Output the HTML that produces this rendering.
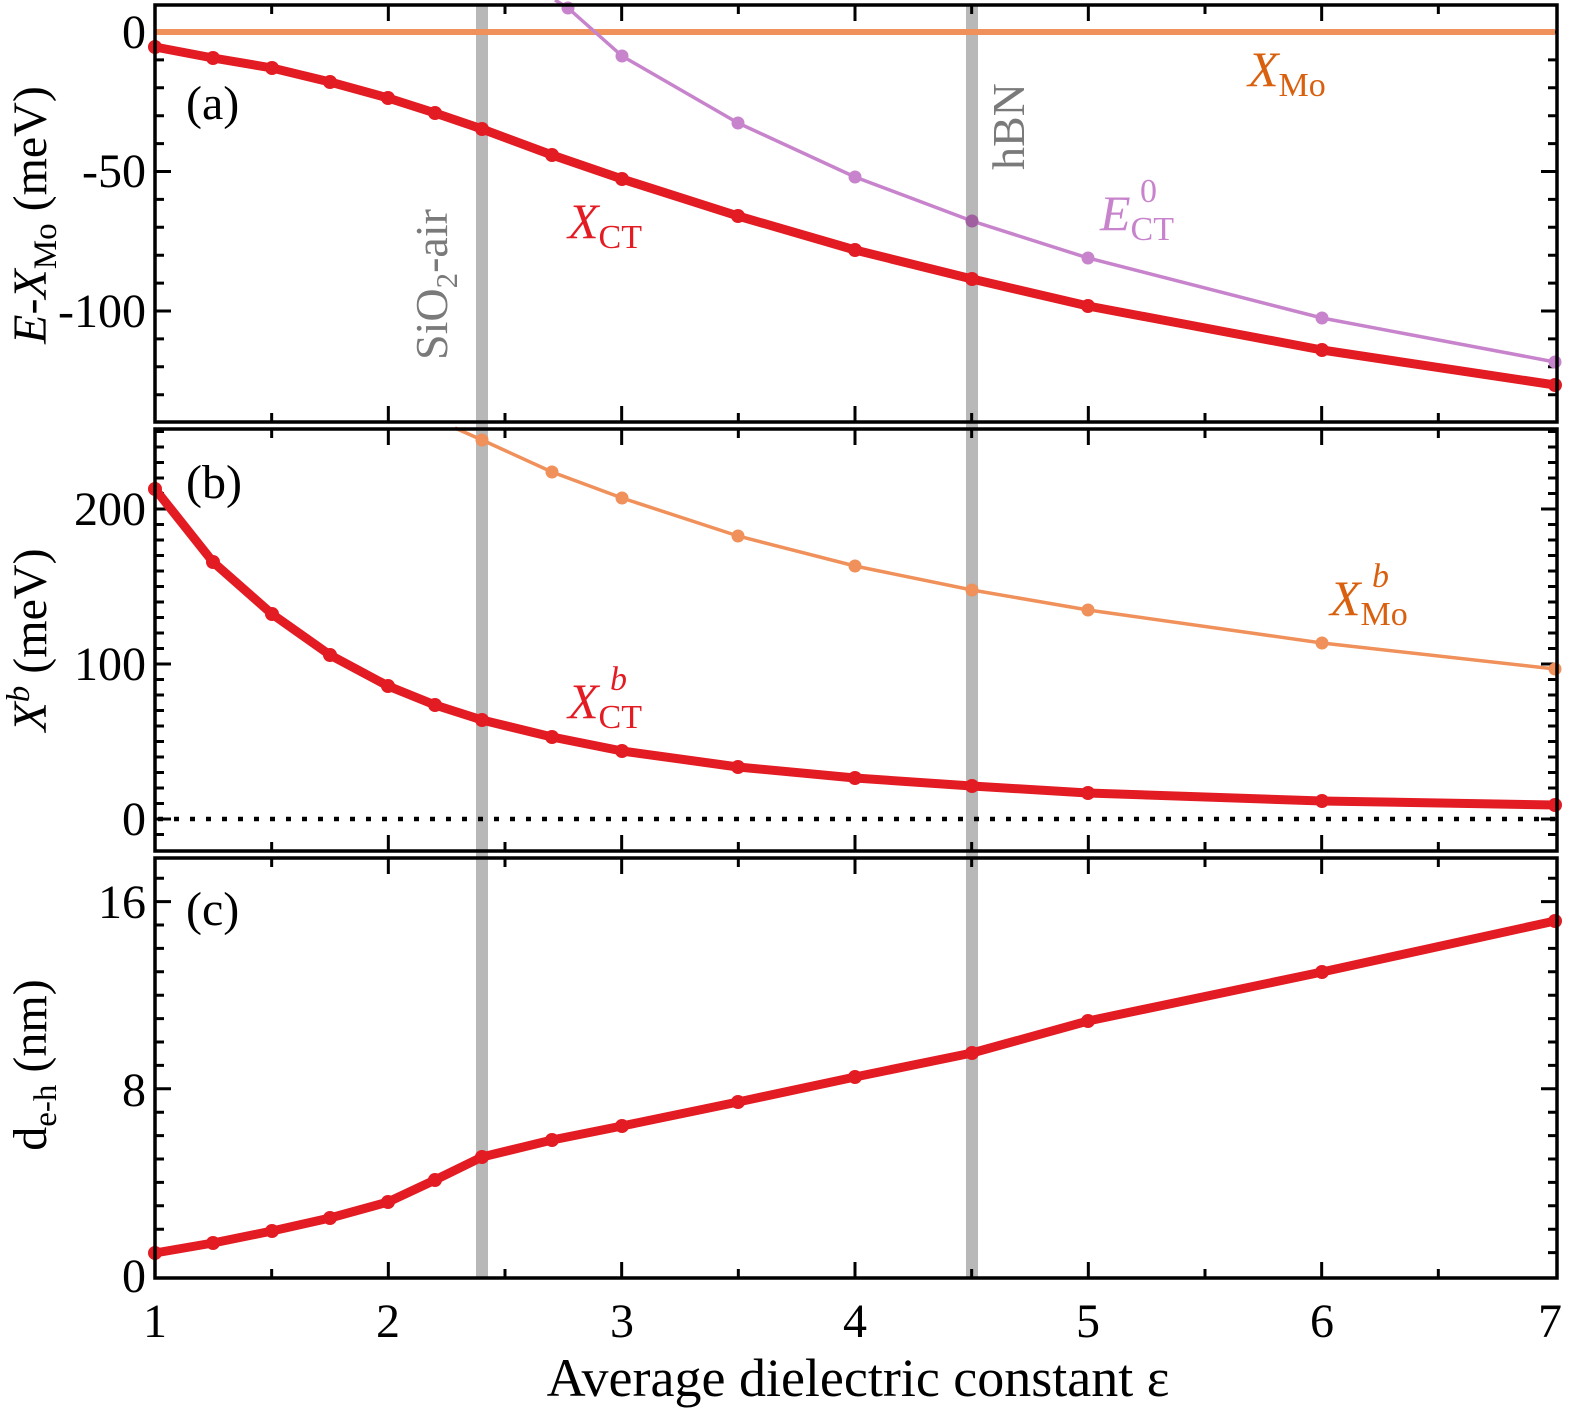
<!DOCTYPE html>
<html><head><meta charset="utf-8"><style>
html,body{margin:0;padding:0;background:#fff}
svg, svg text{font-family:"Liberation Serif","Times New Roman",serif}
</style></head><body>
<svg id="s" width="1570" height="1410" viewBox="0 0 1570 1410" xmlns="http://www.w3.org/2000/svg" font-family="Liberation Serif, serif">
<rect x="476" y="5" width="12" height="1273" fill="#b8b8b8"/>
<rect x="966" y="5" width="12" height="1273" fill="#b8b8b8"/>
<g id="ticks" stroke="#000" stroke-width="3" fill="none"></g>
<line x1="155" y1="32" x2="1555" y2="32" stroke="#f0905a" stroke-width="6"/>
<polyline fill="none" stroke="#c784cc" stroke-width="3.5" points="555,0 568,8 622,56 738,123 855,177 972,221 1088,258 1322,318 1555,362"/>
<g fill="#c784cc"><circle cx="555" cy="8" r="6.5" transform="translate(13,0)"/><circle cx="622" cy="56" r="6.5"/><circle cx="738" cy="123" r="6.5"/><circle cx="855" cy="177" r="6.5"/><circle cx="972" cy="221" r="6.5" fill="#a0609f"/><circle cx="1088" cy="258" r="6.5"/><circle cx="1322" cy="318" r="6.5"/><circle cx="1555" cy="362" r="6.5"/></g>
<polyline fill="none" stroke="#e31b23" stroke-width="9" stroke-linejoin="round" points="155,47 213,58 272,68 330,82 388,98 435,113 482,129 552,155 622,179 738,216 855,250 972,279 1088,306 1322,350 1555,385"/>
<g fill="#e31b23"><circle cx="155" cy="47" r="7"/><circle cx="213" cy="58" r="7"/><circle cx="272" cy="68" r="7"/><circle cx="330" cy="82" r="7"/><circle cx="388" cy="98" r="7"/><circle cx="435" cy="113" r="7"/><circle cx="482" cy="129" r="7"/><circle cx="552" cy="155" r="7"/><circle cx="622" cy="179" r="7"/><circle cx="738" cy="216" r="7"/><circle cx="855" cy="250" r="7"/><circle cx="972" cy="279" r="7"/><circle cx="1088" cy="306" r="7"/><circle cx="1322" cy="350" r="7"/><circle cx="1555" cy="385" r="7"/></g>
<line x1="158" y1="819" x2="1555" y2="819" stroke="#000" stroke-width="4.5" stroke-dasharray="5,11"/>
<polyline fill="none" stroke="#f0905a" stroke-width="3.5" points="455,428 482,440 552,472 622,498 738,536 855,566 972,590 1088,610 1322,643 1555,669"/>
<g fill="#f0905a"><circle cx="482" cy="440" r="6.5"/><circle cx="552" cy="472" r="6.5"/><circle cx="622" cy="498" r="6.5"/><circle cx="738" cy="536" r="6.5"/><circle cx="855" cy="566" r="6.5"/><circle cx="972" cy="590" r="6.5"/><circle cx="1088" cy="610" r="6.5"/><circle cx="1322" cy="643" r="6.5"/><circle cx="1555" cy="669" r="6.5"/></g>
<polyline fill="none" stroke="#e31b23" stroke-width="9" stroke-linejoin="round" points="155,489 213,562 272,614 330,655 388,686 435,705 482,720 552,737 622,751 738,767 855,778 972,786 1088,793 1322,801 1555,805"/>
<g fill="#e31b23"><circle cx="155" cy="489" r="7"/><circle cx="213" cy="562" r="7"/><circle cx="272" cy="614" r="7"/><circle cx="330" cy="655" r="7"/><circle cx="388" cy="686" r="7"/><circle cx="435" cy="705" r="7"/><circle cx="482" cy="720" r="7"/><circle cx="552" cy="737" r="7"/><circle cx="622" cy="751" r="7"/><circle cx="738" cy="767" r="7"/><circle cx="855" cy="778" r="7"/><circle cx="972" cy="786" r="7"/><circle cx="1088" cy="793" r="7"/><circle cx="1322" cy="801" r="7"/><circle cx="1555" cy="805" r="7"/></g>
<polyline fill="none" stroke="#e31b23" stroke-width="9" stroke-linejoin="round" points="155,1253 213,1243 272,1231 330,1218 388,1202 435,1180 482,1157 552,1140 622,1126 738,1102 855,1077 972,1053 1088,1021 1322,972 1555,921"/>
<g fill="#e31b23"><circle cx="155" cy="1253" r="7"/><circle cx="213" cy="1243" r="7"/><circle cx="272" cy="1231" r="7"/><circle cx="330" cy="1218" r="7"/><circle cx="388" cy="1202" r="7"/><circle cx="435" cy="1180" r="7"/><circle cx="482" cy="1157" r="7"/><circle cx="552" cy="1140" r="7"/><circle cx="622" cy="1126" r="7"/><circle cx="738" cy="1102" r="7"/><circle cx="855" cy="1077" r="7"/><circle cx="972" cy="1053" r="7"/><circle cx="1088" cy="1021" r="7"/><circle cx="1322" cy="972" r="7"/><circle cx="1555" cy="921" r="7"/></g>
<g fill="none" stroke="#000" stroke-width="3.5">
<rect x="155" y="5" width="1402" height="417"/>
<rect x="155" y="429" width="1402" height="422"/>
<rect x="155" y="858" width="1402" height="420"/>
</g>
<g font-size="48" text-anchor="end" fill="#000">
<text x="146" y="48">0</text><text x="146" y="187">-50</text><text x="146" y="327">-100</text>
<text x="146" y="525">200</text><text x="146" y="680">100</text><text x="146" y="835">0</text>
<text x="146" y="918">16</text><text x="146" y="1106">8</text><text x="146" y="1292">0</text>
</g>
<g font-size="48" text-anchor="middle" fill="#000">
<text x="155" y="1337">1</text><text x="388" y="1337">2</text><text x="622" y="1337">3</text><text x="855" y="1337">4</text><text x="1088" y="1337">5</text><text x="1322" y="1337">6</text><text x="1550" y="1337">7</text>
<text x="858" y="1396" font-size="54">Average dielectric constant ε</text>
</g>
<g font-size="48" fill="#000">
<text x="186" y="119">(a)</text><text x="186" y="498">(b)</text><text x="186" y="925">(c)</text>
</g>
<text transform="translate(46,215) rotate(-90)" font-size="48" text-anchor="middle"><tspan font-style="italic">E</tspan>-<tspan font-style="italic">X</tspan><tspan font-size="33" dy="10">Mo</tspan><tspan dy="-10"> (meV)</tspan></text>
<text transform="translate(46,640) rotate(-90)" font-size="48" text-anchor="middle"><tspan font-style="italic">X</tspan><tspan font-size="33" dy="-17" font-style="italic">b</tspan><tspan dy="17"> (meV)</tspan></text>
<text transform="translate(46,1065) rotate(-90)" font-size="48" text-anchor="middle">d<tspan font-size="33" dy="10">e-h</tspan><tspan dy="-10"> (nm)</tspan></text>
<text transform="translate(447,360) rotate(-90)" font-size="46" fill="#7a7a7a">SiO<tspan font-size="31" dy="10">2</tspan><tspan dy="-10">-air</tspan></text>
<text transform="translate(1024,170) rotate(-90)" font-size="46" fill="#7a7a7a">hBN</text>
<text x="1248" y="86" font-size="50" fill="#d9600e"><tspan font-style="italic">X</tspan><tspan font-size="34" dy="10">Mo</tspan></text>
<text x="568" y="238" font-size="50" fill="#e31b23"><tspan font-style="italic">X</tspan><tspan font-size="34" dy="10">CT</tspan></text>
<text x="1100" y="230" font-size="50" fill="#c784cc"><tspan font-style="italic">E</tspan><tspan font-size="34" dy="10">CT</tspan><tspan font-size="34" x="1140" dy="-38">0</tspan></text>
<text x="1330" y="615" font-size="50" fill="#d9600e"><tspan font-style="italic">X</tspan><tspan font-size="34" dy="10">Mo</tspan><tspan font-size="34" font-style="italic" x="1372" dy="-38">b</tspan></text>
<text x="568" y="718" font-size="50" fill="#e31b23"><tspan font-style="italic">X</tspan><tspan font-size="34" dy="10">CT</tspan><tspan font-size="34" font-style="italic" x="610" dy="-38">b</tspan></text>
</svg>
<script>
(function(){
var g=document.getElementById('ticks'),d='';
function X(v){return 155+(v-1)*233.333;}
var panels=[[5,422],[429,851],[858,1278]];
panels.forEach(function(p){
 for(var k=2;k<=12;k++){var v=1+(k-1)*0.5,x=X(v),L=(k%2==1)?16:9;
  d+='M'+x+' '+p[1]+'v'+(-L)+'M'+x+' '+p[0]+'v'+L;}
});
function yt(f,vals,majors){vals.forEach(function(v){var y=f(v),L=majors.indexOf(v)>=0?16:9;d+='M155 '+y+'h'+L+'M1557 '+y+'h'+(-L);});}
var a=[];for(var v=-130;v<=0;v+=10)a.push(v);
yt(function(v){return 32-2.79*v;},a,[0,-50,-100]);
var b=[];for(var v=-10;v<=250;v+=10)b.push(v);
yt(function(v){return 819-1.55*v;},b,[0,100,200]);
var c=[];for(var v=1;v<=17;v++)c.push(v);
yt(function(v){return 1276-23.4*v;},c,[8,16]);
var p=document.createElementNS('http://www.w3.org/2000/svg','path');p.setAttribute('d',d);g.appendChild(p);
})();
</script>
</body></html>
